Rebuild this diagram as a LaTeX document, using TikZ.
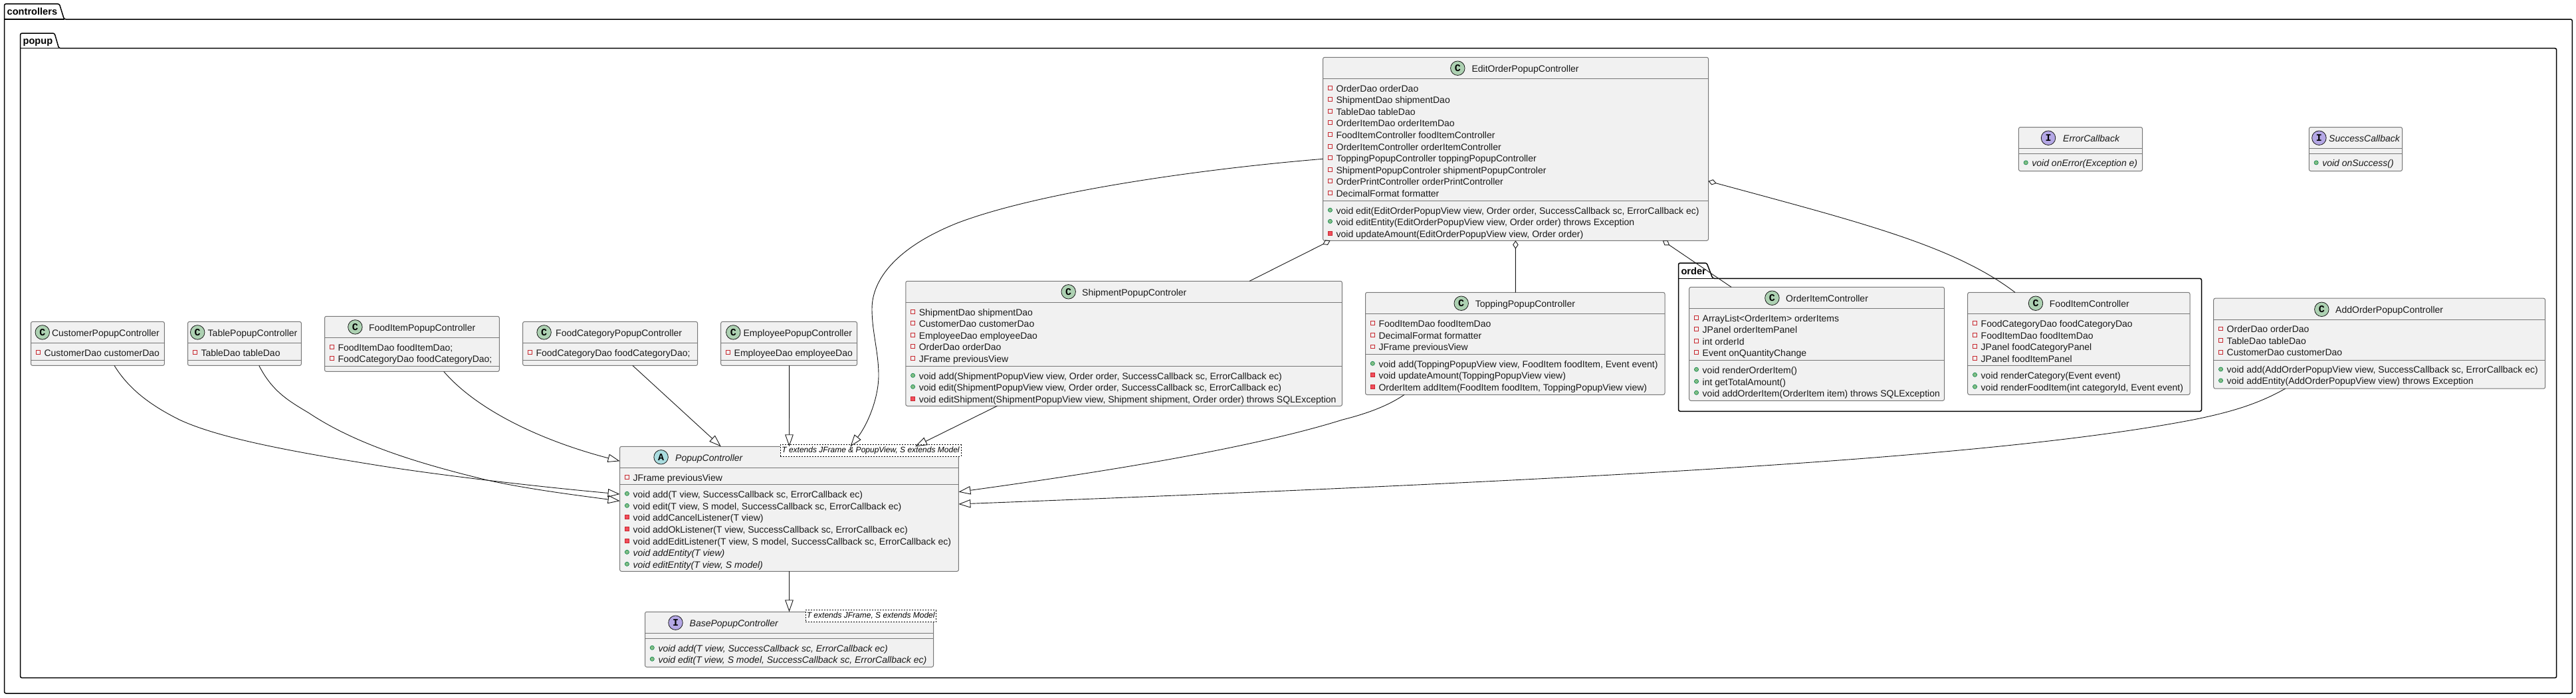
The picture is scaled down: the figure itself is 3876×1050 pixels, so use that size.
\documentclass[tikz,border=0pt]{standalone}
\usepackage{fontspec}
\setmainfont{Liberation Sans}
\newfontfamily\umlmono{Liberation Mono}
\usetikzlibrary{arrows.meta}
\definecolor{boxfill}{HTML}{F1F1F1}
\definecolor{boxline}{HTML}{777777}
\definecolor{ink}{HTML}{181818}
\definecolor{circC}{HTML}{ADD1B2}
\definecolor{circA}{HTML}{A9DCDF}
\definecolor{circI}{HTML}{B4A7E5}
\definecolor{privline}{HTML}{C82930}
\definecolor{privfill}{HTML}{F24D5C}
\definecolor{publine}{HTML}{038048}
\definecolor{pubfill}{HTML}{84BE84}
\newcounter{memc}
\tikzset{
  classbox/.style={draw=boxline,fill=boxfill,line width=1pt,rounded corners=2.5pt,anchor=north west,inner sep=0pt,outer sep=0pt},
  sepline/.style={draw=boxline,line width=1pt},
  memtext/.style={anchor=base west,inner sep=0pt,font=\fontsize{14}{17}\selectfont,text=black!90},
  titletext/.style={anchor=base west,inner sep=0pt,font=\fontsize{14}{17}\selectfont,text=black!90},
  headcircle/.style={circle,draw=ink,line width=.8pt,minimum size=21.5pt,inner sep=0pt,font=\umlmono\bfseries\fontsize{15}{15}\selectfont},
  genbox/.style={draw=black,dash pattern=on 2pt off 2pt,line width=.8pt,fill=white,anchor=north west,inner sep=0pt,font=\itshape\fontsize{12}{14}\selectfont},
  pkgline/.style={draw=black,line width=1.5pt,rounded corners=2.5pt},
  pkglabel/.style={anchor=base west,inner sep=0pt,font=\bfseries\fontsize{14.6}{17}\selectfont},
  conn/.style={draw=ink,line width=.9pt},
  extends/.style={conn,-{Triangle[open,length=18pt,width=12.5pt]}},
  aggreg/.style={conn,{Diamond[open,length=12.5pt,width=8.5pt]}-}
}
\newcommand\umlbox[5]{%
  \pgfmathsetmacro\boxw{#4-#2}\pgfmathsetmacro\boxh{#5-#3}%
  \def\curL{#2}%
  \node[classbox,minimum width=\boxw pt,minimum height=\boxh pt] (#1) at (#2,#3) {};}
\newcommand\umlsep[2]{\draw[sepline] (#1.west |- 0,#2) -- (#1.east |- 0,#2);}
\newcommand\umlhead[7]{% id cx cy letter colour tx title
  \node[headcircle,fill=#5] (#1c) at (#2,#3) {#4};
  \pgfmathsetmacro\tby{#3+5.7}%
  \node[titletext] (#1t) at (#6,\tby) {#7};}
\newcommand\umlmem[3]{% kind y text
  \stepcounter{memc}%
  \pgfmathsetmacro\mx{\curL+10.8}\pgfmathsetmacro\tx{\curL+19.8}\pgfmathsetmacro\by{#2+5.7}%
  \ifx#1f\draw[draw=privline,line width=.9pt] (\mx-2.9,#2-2.9) rectangle (\mx+2.9,#2+2.9);\fi
  \ifx#1p\draw[draw=privline,fill=privfill,line width=.6pt] (\mx-3,#2-3) rectangle (\mx+3,#2+3);\fi
  \ifx#1g\draw[draw=publine,fill=pubfill,line width=.6pt] (\mx,#2) circle (3.1pt);\fi
  \node[memtext] (mem\arabic{memc}) at (\tx,\by) {#3};}
\newcommand\umlgen[6]{% id x1 y1 x2 y2 text
  \pgfmathsetmacro\boxw{#4-#2}\pgfmathsetmacro\boxh{#5-#3}%
  \node[genbox,minimum width=\boxw pt,minimum height=\boxh pt] (#1) at (#2,#3) {#6};}
\newcommand\umlpkg[7]{% L top tab TR BR R bot
  \draw[pkgline] (#1,#3) -- (#1,#2) -- (#4,#2) -- (#5,#3) -- (#6,#3) -- (#6,#7) -- (#1,#7) -- cycle;
  \draw[draw=black,line width=1.5pt] (#1,#3) -- (#5,#3);}
\begin{document}
\begin{tikzpicture}[x=1pt,y=-1pt]
\useasboundingbox (0,0) rectangle (3876,1050);
\fill[white] (0,0) rectangle (3876,1050);

% packages
\umlpkg{6.5}{5.8}{29}{89.3}{96.5}{3870.3}{1044}
\node[pkglabel] (pkgcontrollers) at (10.5,22.7) {controllers};
\umlpkg{30.6}{50}{72.7}{82}{88.6}{3846.7}{1020.7}
\node[pkglabel] (pkgpopup) at (34.4,66.4) {popup};
\umlpkg{2525.5}{396}{419.3}{2568}{2577}{3312.5}{619.3}
\node[pkglabel] (pkgorder) at (2529.3,413) {order};

% simple controllers
\umlbox{cust}{46.5}{484.4}{247.4}{550.4}
\umlsep{cust}{516.5}\umlsep{cust}{542.4}
\umlhead{cust}{63.8}{500.4}{C}{circC}{77.8}{CustomerPopupController}
\umlmem{f}{530.3}{CustomerDao customerDao}

\umlbox{tbl}{282.5}{484.4}{453.4}{550.4}
\umlsep{tbl}{516.5}\umlsep{tbl}{542.4}
\umlhead{tbl}{297.2}{500.4}{C}{circC}{312.5}{TablePopupController}
\umlmem{f}{530.3}{TableDao tableDao}

\umlbox{fip}{488.5}{476.3}{751.3}{559.4}
\umlsep{fip}{508.5}\umlsep{fip}{551.3}
\umlhead{fip}{534.4}{492.4}{C}{circC}{554.8}{FoodItemPopupController}
\umlmem{f}{522.3}{FoodItemDao foodItemDao;}
\umlmem{f}{539.3}{FoodCategoryDao foodCategoryDao;}

\umlbox{fcp}{786.6}{484.4}{1049.6}{550.4}
\umlsep{fcp}{516.5}\umlsep{fcp}{542.4}
\umlhead{fcp}{818.6}{500.4}{C}{circC}{836}{FoodCategoryPopupController}
\umlmem{f}{530.3}{FoodCategoryDao foodCategoryDao;}

\umlbox{emp}{1084.7}{484.4}{1289.6}{550.4}
\umlsep{emp}{516.5}\umlsep{emp}{542.4}
\umlhead{emp}{1103.3}{500.4}{C}{circC}{1118.4}{EmployeePopupController}
\umlmem{f}{530.3}{EmployeeDao employeeDao}

% PopupController
\umlbox{pc}{932.6}{672.3}{1442.4}{860.3}
\umlsep{pc}{704.3}\umlsep{pc}{729.3}
\umlhead{pc}{994.6}{688.3}{A}{circA}{1016}{\itshape PopupController}
\umlmem{f}{718.3}{JFrame previousView}
\umlmem{g}{743.3}{void add(T view, SuccessCallback sc, ErrorCallback ec)}
\umlmem{g}{761.3}{void edit(T view, S model, SuccessCallback sc, ErrorCallback ec)}
\umlmem{p}{778.7}{void addCancelListener(T view)}
\umlmem{p}{796.3}{void addOkListener(T view, SuccessCallback sc, ErrorCallback ec)}
\umlmem{p}{814.3}{void addEditListener(T view, S model, SuccessCallback sc, ErrorCallback ec)}
\umlmem{g}{831.3}{\itshape void addEntity(T view)}
\umlmem{g}{849.3}{\itshape void editEntity(T view, S model)}
\umlgen{pcgen}{1173.7}{669.3}{1445.5}{686.7}{T extends JFrame \& PopupView, S extends Model}

% BasePopupController
\umlbox{bpc}{970.5}{921.3}{1404.5}{1004.3}
\umlsep{bpc}{953.3}\umlsep{bpc}{961.3}
\umlhead{bpc}{1016.5}{937.7}{I}{circI}{1037.5}{\itshape BasePopupController}
\umlmem{g}{975.3}{\itshape void add(T view, SuccessCallback sc, ErrorCallback ec)}
\umlmem{g}{992.3}{\itshape void edit(T view, S model, SuccessCallback sc, ErrorCallback ec)}
\umlgen{bpcgen}{1211.6}{918.3}{1408}{935.7}{T extends JFrame, S extends Model}

% ShipmentPopupControler
\umlbox{ship}{1362.8}{423.3}{2019.4}{611.3}
\umlsep{ship}{455.7}\umlsep{ship}{551.7}
\umlhead{ship}{1607.7}{439.3}{C}{circC}{1628}{ShipmentPopupControler}
\umlmem{f}{469.3}{ShipmentDao shipmentDao}
\umlmem{f}{486.3}{CustomerDao customerDao}
\umlmem{f}{504.3}{EmployeeDao employeeDao}
\umlmem{f}{521.3}{OrderDao orderDao}
\umlmem{f}{539.3}{JFrame previousView}
\umlmem{g}{565.3}{void add(ShipmentPopupView view, Order order, SuccessCallback sc, ErrorCallback ec)}
\umlmem{g}{582.3}{void edit(ShipmentPopupView view, Order order, SuccessCallback sc, ErrorCallback ec)}
\umlmem{p}{600.3}{void editShipment(ShipmentPopupView view, Shipment shipment, Order order) throws SQLException}

% ToppingPopupController
\umlbox{top}{2054.5}{440.3}{2505}{594.3}
\umlsep{top}{472.3}\umlsep{top}{533.7}
\umlhead{top}{2198.7}{456.7}{C}{circC}{2219.6}{ToppingPopupController}
\umlmem{f}{486.3}{FoodItemDao foodItemDao}
\umlmem{f}{504.3}{DecimalFormat formatter}
\umlmem{f}{522}{JFrame previousView}
\umlmem{g}{547.3}{void add(ToppingPopupView view, FoodItem foodItem, Event event)}
\umlmem{p}{564.7}{void updateAmount(ToppingPopupView view)}
\umlmem{p}{582.3}{OrderItem addItem(FoodItem foodItem, ToppingPopupView view)}

% EditOrderPopupController
\umlbox{edit}{1990.6}{86.3}{2570.5}{362.3}
\umlsep{edit}{118.7}\umlsep{edit}{302.3}
\umlhead{edit}{2193.3}{102.7}{C}{circC}{2214.3}{EditOrderPopupController}
\umlmem{f}{132.3}{OrderDao orderDao}
\umlmem{f}{149.3}{ShipmentDao shipmentDao}
\umlmem{f}{167.3}{TableDao tableDao}
\umlmem{f}{184.3}{OrderItemDao orderItemDao}
\umlmem{f}{202.3}{FoodItemController foodItemController}
\umlmem{f}{220.3}{OrderItemController orderItemController}
\umlmem{f}{237.3}{ToppingPopupController toppingPopupController}
\umlmem{f}{255.3}{ShipmentPopupControler shipmentPopupControler}
\umlmem{f}{272.3}{OrderPrintController orderPrintController}
\umlmem{f}{290.3}{DecimalFormat formatter}
\umlmem{g}{316.3}{void edit(EditOrderPopupView view, Order order, SuccessCallback sc, ErrorCallback ec)}
\umlmem{g}{333.3}{void editEntity(EditOrderPopupView view, Order order) throws Exception}
\umlmem{p}{351.3}{void updateAmount(EditOrderPopupView view, Order order)}

% order package classes
\umlbox{oic}{2541.7}{432.3}{2925.5}{603.3}
\umlsep{oic}{464.3}\umlsep{oic}{542.3}
\umlhead{oic}{2666.4}{448.7}{C}{circC}{2687}{OrderItemController}
\umlmem{f}{478.3}{ArrayList<OrderItem> orderItems}
\umlmem{f}{495.3}{JPanel orderItemPanel}
\umlmem{f}{513.3}{int orderId}
\umlmem{f}{530.3}{Event onQuantityChange}
\umlmem{g}{556.3}{void renderOrderItem()}
\umlmem{g}{574.3}{int getTotalAmount()}
\umlmem{g}{591.3}{void addOrderItem(OrderItem item) throws SQLException}

\umlbox{fic}{2960.7}{440.3}{3295}{594.3}
\umlsep{fic}{472.3}\umlsep{fic}{550.3}
\umlhead{fic}{3063}{456.7}{C}{circC}{3083.7}{FoodItemController}
\umlmem{f}{486.3}{FoodCategoryDao foodCategoryDao}
\umlmem{f}{504.3}{FoodItemDao foodItemDao}
\umlmem{f}{521.3}{JPanel foodCategoryPanel}
\umlmem{f}{539.3}{JPanel foodItemPanel}
\umlmem{g}{564.3}{void renderCategory(Event event)}
\umlmem{g}{582.3}{void renderFoodItem(int categoryId, Event event)}

% AddOrderPopupController
\umlbox{add}{3330.7}{449.2}{3829.6}{585.2}
\umlsep{add}{481.2}\umlsep{add}{542.1}
\umlhead{add}{3493.3}{465.8}{C}{circC}{3514}{AddOrderPopupController}
\umlmem{f}{495}{OrderDao orderDao}
\umlmem{f}{512.8}{TableDao tableDao}
\umlmem{f}{530.2}{CustomerDao customerDao}
\umlmem{g}{556}{void add(AddOrderPopupView view, SuccessCallback sc, ErrorCallback ec)}
\umlmem{g}{573}{void addEntity(AddOrderPopupView view) throws Exception}

% callbacks
\umlbox{err}{3037.4}{191.5}{3223.5}{257.5}
\umlsep{err}{223.5}\umlsep{err}{231.4}
\umlhead{err}{3082}{207.7}{I}{circI}{3104}{\itshape ErrorCallback}
\umlmem{g}{244.9}{\itshape void onError(Exception e)}

\umlbox{suc}{3474.3}{191.5}{3614.5}{257.5}
\umlsep{suc}{223.5}\umlsep{suc}{231.4}
\umlhead{suc}{3489.4}{207.7}{I}{circI}{3504}{\itshape SuccessCallback}
\umlmem{g}{244.9}{\itshape void onSuccess()}

% connectors
\draw[extends] ([xshift=125.5pt]cust.south west) .. controls (195,588) and (230,612) .. (270,632) .. controls (330,660) and (440,680) .. (564,700) .. controls (650,714) and (800,732) .. ([yshift=-71.7pt]pc.north west);
\draw[extends] ([xshift=107.2pt]tbl.south west) .. controls (410,590) and (435,604) .. (465,622) .. controls (540,672) and (640,700) .. (729,722) .. controls (790,736) and (870,746) .. ([yshift=-82pt]pc.north west);
\draw[extends] ([xshift=179.2pt]fip.south west) .. controls (720,620) and (820,665) .. ([yshift=-22pt]pc.north west);
\draw[extends] ([xshift=165.3pt]fcp.south west) -- ([xshift=152.2pt]pc.north west);
\draw[extends] ([xshift=102.9pt]emp.south west) -- ([xshift=254.9pt]pc.north west);
\draw[extends] ([yshift=-153pt]edit.north west) .. controls (1800,255) and (1560,290) .. (1440,336) .. controls (1350,372) and (1312,420) .. (1312,465) .. controls (1312,500) and (1322,530) .. (1322,565) .. controls (1322,600) and (1305,640) .. ([xshift=346.9pt]pc.north west);
\draw[extends] ([xshift=137.6pt]ship.south west) -- ([xshift=444.4pt]pc.north west);
\draw[extends] ([xshift=58.5pt]top.south west) .. controls (2090,610) and (2060,622) .. (2020,632) .. controls (1880,676) and (1650,712) .. ([yshift=-68.4pt]pc.north east);
\draw[extends] ([xshift=107.8pt]add.south west) .. controls (3400,607) and (3360,620) .. (3300,632) .. controls (3000,690) and (2400,722) .. ([yshift=-86.7pt]pc.north east);
\draw[extends] (pc.south) -- (bpc.north);
\draw[aggreg] ([xshift=10.9pt]edit.south west) -- ([xshift=517.2pt]ship.north west);
\draw[aggreg] ([xshift=289.8pt]edit.south west) -- ([xshift=225.9pt]top.north west);
\draw[aggreg] ([xshift=511.2pt]edit.south west) -- ([xshift=63.3pt]oic.north west);
\draw[aggreg] ([yshift=-186.4pt]edit.north east) .. controls (2800,335) and (2940,370) .. ([xshift=71.3pt]fic.north west);
\end{tikzpicture}
\end{document}
